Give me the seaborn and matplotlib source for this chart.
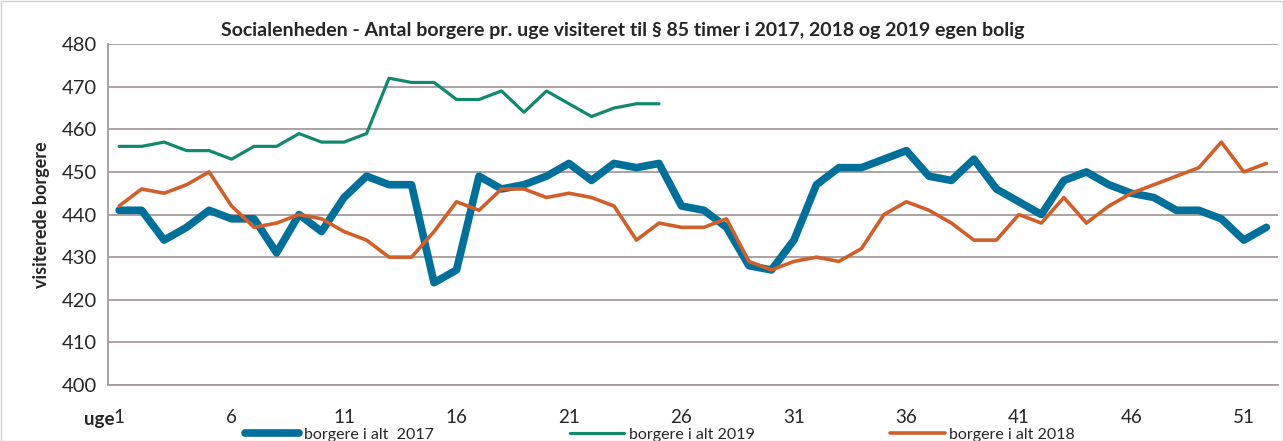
import numpy as np
import pandas as pd
import seaborn as sns
import matplotlib.pyplot as plt
from matplotlib.patches import Rectangle

# Weekly counts
weeks_2017 = list(range(1, 53))
borgere_2017 = [441, 441, 434, 437, 441, 439, 439, 431, 440, 436,
                444, 449, 447, 447, 424, 427, 449, 446, 447, 449,
                452, 448, 452, 451, 452, 442, 441, 437, 428, 427,
                434, 447, 451, 451, 453, 455, 449, 448, 453, 446,
                443, 440, 448, 450, 447, 445, 444, 441, 441, 439,
                434, 437]
weeks_2018 = list(range(1, 53))
borgere_2018 = [442, 446, 445, 447, 450, 442, 437, 438, 440, 439,
                436, 434, 430, 430, 436, 443, 441, 446, 446, 444,
                445, 444, 442, 434, 438, 437, 437, 439, 429, 427,
                429, 430, 429, 432, 440, 443, 441, 438, 434, 434,
                440, 438, 444, 438, 442, 445, 447, 449, 451, 457,
                450, 452]
weeks_2019 = list(range(1, 26))
borgere_2019 = [456, 456, 457, 455, 455, 453, 456, 456, 459, 457,
                457, 459, 472, 471, 471, 467, 467, 469, 464, 469,
                466, 463, 465, 466, 466]

x_ticks = [1, 6, 11, 16, 21, 26, 31, 36, 41, 46, 51]

title = "Socialenheden - Antal borgere pr. uge visiteret til § 85 timer i 2017, 2018 og 2019 egen bolig"

sns.set_style("white")
plt.rcParams['font.family'] = ['Lato', 'DejaVu Sans']

grid_col = "#a59c9c"
c2017 = "#00709b"
c2019 = "#12896f"
c2018 = "#d15f2c"

fig = plt.figure(figsize=(12.84, 4.41), dpi=100)
ax = fig.add_axes([0.084, 0.127, 0.911, 0.773])

sns.lineplot(x=weeks_2019, y=borgere_2019, color=c2019, linewidth=2.3, ax=ax, label="borgere i alt 2019")
sns.lineplot(x=weeks_2017, y=borgere_2017, color=c2017, linewidth=5.5, ax=ax, label="borgere i alt  2017")
sns.lineplot(x=weeks_2018, y=borgere_2018, color=c2018, linewidth=2.6, ax=ax, label="borgere i alt 2018")

ax.set_xlim(0.5, 52.5)
ax.set_ylim(400, 480)
ax.set_yticks(np.arange(400, 481, 10))
ax.yaxis.grid(True, color=grid_col, linewidth=1.3)
ax.set_axisbelow(True)

ax.set_xticks(x_ticks)
ax.set_xticklabels([str(t) for t in x_ticks])
ax.set_xticks(np.arange(0.5, 53, 1), minor=True)
ax.tick_params(axis='x', which='major', length=0, pad=17, labelsize=13.5)
ax.tick_params(axis='x', which='minor', length=5, color=grid_col, width=1.2, direction='out')
ax.tick_params(axis='y', length=5, color=grid_col, width=1.2, labelsize=14.5, pad=3)
ax.text(0.8, -0.075, "uge", transform=ax.get_xaxis_transform(), ha='right', va='top',
        fontsize=13.5, fontweight='bold')

for s in ['top', 'right']:
    ax.spines[s].set_visible(False)
for s in ['left', 'bottom']:
    ax.spines[s].set_color(grid_col)
    ax.spines[s].set_linewidth(1.3)

ax.set_xlabel("")
ax.set_ylabel("visiterede borgere", fontsize=13, fontweight='bold', labelpad=8)
ax.set_title(title, fontsize=14, fontweight='bold', pad=6, x=0.44)

handles, labels = ax.get_legend_handles_labels()
order = [1, 0, 2]
ax.legend([handles[i] for i in order], [labels[i] for i in order],
          loc='lower center', bbox_to_anchor=(0.472, -0.185), ncol=3, frameon=False,
          fontsize=11.5, columnspacing=8.5, handlelength=3.4, handletextpad=0.3, borderaxespad=0)

fig.patches.append(Rectangle((0.001, 0.001), 0.998, 0.997, transform=fig.transFigure,
                             fill=False, edgecolor="#d0d0d0", linewidth=1))

fig.savefig("out.png", dpi=100)
